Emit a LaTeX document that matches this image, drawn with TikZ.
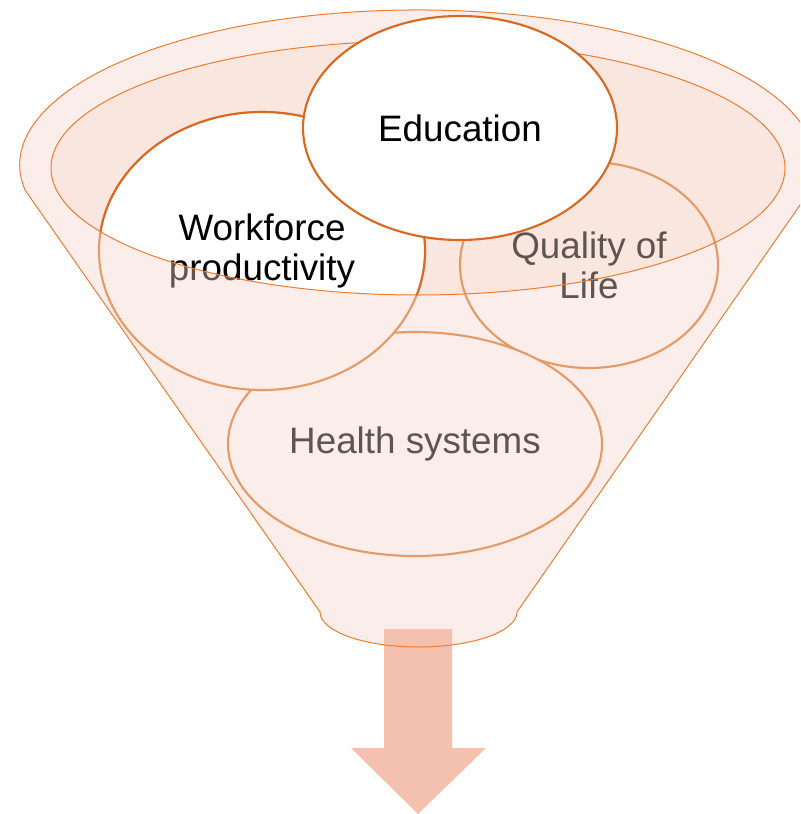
\documentclass[tikz,border=0pt]{standalone}
\usepackage{fontspec}
\setmainfont{Liberation Sans}
\usepackage{tikz}
\usetikzlibrary{shapes.geometric}
\definecolor{funnelfill}{HTML}{FBEDE9}
\definecolor{rimfill}{HTML}{F9E6DF}
\definecolor{funnelline}{HTML}{ED7D31}
\definecolor{darkedge}{HTML}{D76A20}
\definecolor{lightedge}{HTML}{E59B68}
\definecolor{greytext}{HTML}{5F5550}
\definecolor{arrowfill}{HTML}{F5C1AF}
\tikzset{
	bubble/.style={ellipse, inner sep=0pt, align=center, line width=1.6pt,
		font=\fontsize{27.6}{30}\selectfont},
	front/.style={bubble, draw=darkedge, fill=white, text=black},
	back/.style={bubble, draw=lightedge, fill=funnelfill, text=greytext},
	hollow/.style={bubble, draw=lightedge, text=greytext},
	rim/.style={draw=funnelline, line width=0.75pt}
}

\begin{document}
\begin{tikzpicture}[x=0.75pt, y=-0.75pt]
	\useasboundingbox (0,0) rectangle (800,814);
	\clip (0,0) rectangle (800,814);
	\fill[funnelfill] (25,190) arc[start angle=170.7, end angle=369.3, x radius=398, y radius=155]
		-- (517,612) arc[start angle=0, end angle=180, x radius=98.5, y radius=35] -- cycle;
	\fill[arrowfill] (384,629) -- (452,629) -- (452,748) -- (486,748) -- (418,814)
		-- (351,748) -- (384,748) -- cycle;
	\draw[rim] (25,190) arc[start angle=170.7, end angle=369.3, x radius=398, y radius=155]
		-- (517,612) arc[start angle=0, end angle=180, x radius=98.5, y radius=35] -- cycle;
	\fill[rimfill] (418,168) ellipse[x radius=367, y radius=127];
	\node[hollow, minimum width=193.5pt, minimum height=154.5pt] (life) at (589,265) {Quality of\\Life};
	\node[back, minimum width=280.5pt, minimum height=168pt] (health) at (415,444) {Health systems};
	\node[back, minimum width=244.5pt, minimum height=208.5pt] (work) at (262,251) {Workforce\\productivity};
	\begin{scope}
		\clip (418,168) ellipse[x radius=367, y radius=127];
		\node[front, minimum width=244.5pt, minimum height=208.5pt] (workrim) at (262,251) {Workforce\\productivity};
	\end{scope}
	\draw[rim] (418,168) ellipse[x radius=367, y radius=127];
	\node[front, minimum width=235.5pt, minimum height=168pt] (edu) at (460,128) {Education};
\end{tikzpicture}
\end{document}
